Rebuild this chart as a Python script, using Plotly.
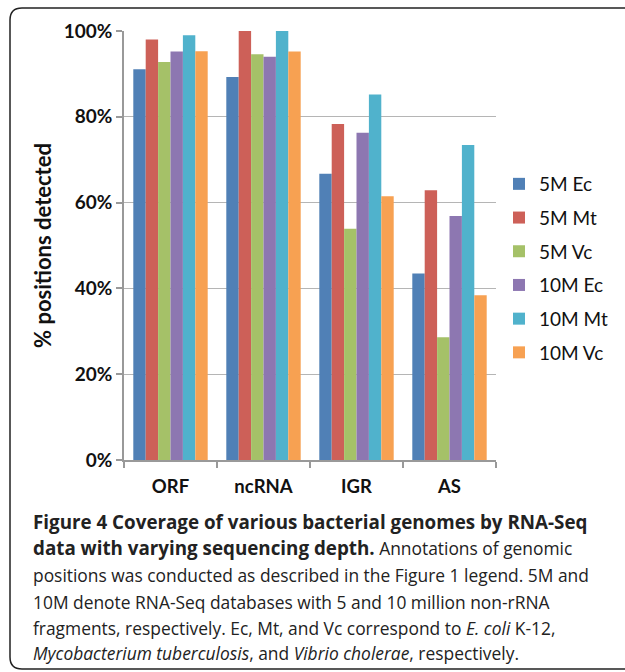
import plotly.graph_objects as go

categories = ["ORF", "ncRNA", "IGR", "AS"]
series_names = ["5M Ec", "5M Mt", "5M Vc", "10M Ec", "10M Mt", "10M Vc"]
v_5M_Ec = [0.911, 0.893, 0.667, 0.435]
v_5M_Mt = [0.980, 1.000, 0.783, 0.629]
v_5M_Vc = [0.928, 0.946, 0.539, 0.286]
v_10M_Ec = [0.952, 0.940, 0.763, 0.569]
v_10M_Mt = [0.990, 1.000, 0.852, 0.734]
v_10M_Vc = [0.953, 0.952, 0.615, 0.384]
series_values = [v_5M_Ec, v_5M_Mt, v_5M_Vc, v_10M_Ec, v_10M_Mt, v_10M_Vc]
colors = ["#5080B6", "#CD6058", "#A5C168", "#8D77B1", "#50B2CC", "#F7A152"]
y_ticks = [0, 0.2, 0.4, 0.6, 0.8, 1.0]

W, H = 625, 672
L, R, T, B = 124, 496, 31, 460


def px(x):
    return (x - L) / (R - L)


def py(y):
    return (B - y) / (B - T)


fig = go.Figure()
for i, (name, vals, col) in enumerate(zip(series_names, series_values, colors)):
    fig.add_trace(go.Bar(x=categories, y=vals, name=name, marker_color=col,
                         marker_line_width=0, legendgroup=f"g{i}"))

font_lbl = "Lato"
fig.update_layout(
    width=W, height=H,
    margin=dict(l=L, r=W - R, t=T, b=H - B, pad=0, autoexpand=False),
    paper_bgcolor="white", plot_bgcolor="white",
    barmode="group", bargap=0.2, bargroupgap=0,
    showlegend=True,
    legend=dict(x=px(499), y=py(165), xanchor="left", yanchor="top",
                font=dict(family=font_lbl, size=19, color="#111"),
                tracegroupgap=6, bgcolor="rgba(0,0,0,0)"),
    xaxis=dict(showline=True, linecolor="#999", linewidth=1.5,
               ticks="outside", tickson="boundaries", ticklen=6, tickcolor="#999",
               tickwidth=1.5,
               tickfont=dict(family=font_lbl, size=18.5, color="#111", weight="bold"),
               ticklabelstandoff=9, showgrid=False),
    yaxis=dict(range=[0, 1], tickvals=y_ticks, tickformat=".0%",
               showline=True, linecolor="#999", linewidth=1.5,
               ticks="outside", ticklen=6, tickcolor="#999", tickwidth=1.5,
               showgrid=True, gridcolor="#b5b5b5", gridwidth=1.2,
               tickfont=dict(family=font_lbl, size=19, color="#111", weight="bold"),
               title=dict(text="% positions detected", standoff=6,
                          font=dict(family=font_lbl, size=22, color="#111", weight="bold"))),
)

# rounded border of the figure panel
x0, x1 = px(10), px(640)
y0, y1 = py(669), py(8)
rx = 12 / (R - L)
ry = 12 / (B - T)
path = (f"M{x0},{y0 + ry} L{x0},{y1 - ry} Q{x0},{y1} {x0 + rx},{y1} L{x1},{y1} "
        f"L{x1},{y0} L{x0 + rx},{y0} Q{x0},{y0} {x0},{y0 + ry} Z")
fig.add_shape(type="path", path=path, xref="paper", yref="paper",
              line=dict(color="#222", width=1.5), fillcolor="rgba(0,0,0,0)", layer="above")

BS = '<span style="font-size:18.8px"><b>'
BE = '</b></span>'
caption_lines = [
    BS + "Figure 4 Coverage of various bacterial genomes by RNA-Seq" + BE,
    BS + "data with varying sequencing depth." + BE + " Annotations of genomic",
    "positions was conducted as described in the Figure 1 legend. 5M and",
    "10M denote RNA-Seq databases with 5 and 10 million non-rRNA",
    "fragments, respectively. Ec, Mt, and Vc correspond to <i>E. coli</i> K-12,",
    "<i>Mycobacterium tuberculosis</i>, and <i>Vibrio cholerae</i>, respectively.",
]
caption_y = [522, 548, 575, 602, 628, 653]
for txt, yy in zip(caption_lines, caption_y):
    fig.add_annotation(text=txt, x=px(31), y=py(yy), xref="paper", yref="paper",
                       xanchor="left", yanchor="middle", showarrow=False,
                       font=dict(family="Open Sans", size=17.4, color="#222"))

fig.write_html("out.html", config={"displayModeBar": False},
               post_script="document.body.style.margin='0px';")
